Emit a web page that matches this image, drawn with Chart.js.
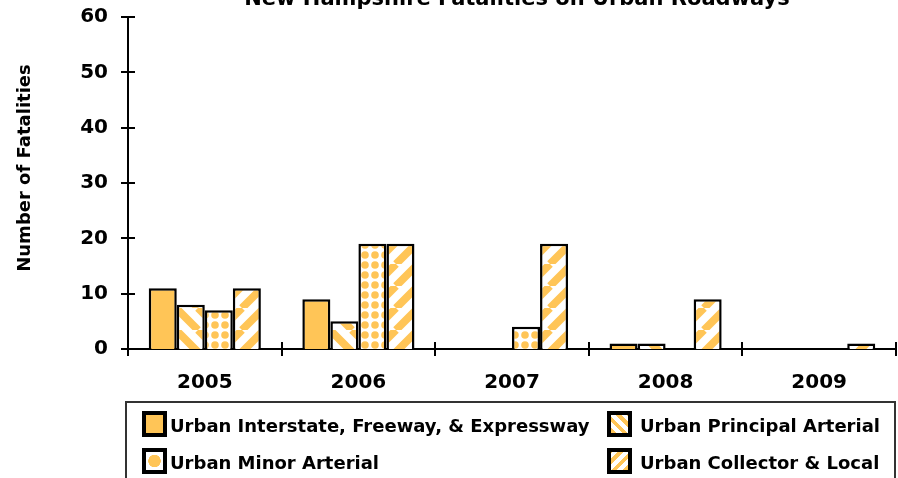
<!DOCTYPE html>
<html>
<head>
<meta charset="utf-8">
<script src="https://cdn.jsdelivr.net/npm/chart.js@4.4.1/dist/chart.umd.min.js"></script>
<style>
  html, body { margin:0; padding:0; background:#fff; }
  #wrap { position:relative; width:898px; height:478px; overflow:hidden; }
  canvas { position:absolute; left:0; top:0; }
  #legendBox { position:absolute; left:125px; top:401px; width:771px; height:100px; border:2px solid #333; box-sizing:border-box; }
  .sw { position:absolute; width:25px; height:26px; border:4px solid #000; box-sizing:border-box; }
  .lt { position:absolute; font-family:"DejaVu Sans", sans-serif; font-weight:bold; font-size:18px; line-height:18px; color:#000; white-space:nowrap; }
</style>
</head>
<body>
<div id="wrap">
  <canvas id="c" width="898" height="478"></canvas>
  <div id="legendBox"></div>
  <div id="legend"></div>
</div>
<script>
// ---- data ----
const years = ["2005", "2006", "2007", "2008", "2009"];
const seriesNames = [
  "Urban Interstate, Freeway, & Expressway",
  "Urban Principal Arterial",
  "Urban Minor Arterial",
  "Urban Collector & Local"
];
const interstateFreewayExpressway = [11, 9, 0, 1, 0];
const principalArterial = [8, 5, 0, 1, 0];
const minorArterial = [7, 19, 4, 0, 0];
const collectorLocal = [11, 19, 19, 9, 1];
const yTicks = [0, 10, 20, 30, 40, 50, 60];
const chartTitle = "New Hampshire Fatalities on Urban Roadways";
const yAxisTitle = "Number of Fatalities";

const ORANGE = "#FFC557";

function stripePattern(dir) {
  const T = 22;
  const c = document.createElement("canvas");
  c.width = T; c.height = T;
  const g = c.getContext("2d");
  g.fillStyle = "#fff"; g.fillRect(0, 0, T, T);
  g.strokeStyle = ORANGE; g.lineWidth = 7.8;
  g.beginPath();
  for (let k = -1; k <= 1; k++) {
    if (dir === "/") { g.moveTo(k * T, T); g.lineTo(k * T + T, 0); }
    else { g.moveTo(k * T, 0); g.lineTo(k * T + T, T); }
  }
  g.stroke();
  return g.createPattern(c, "repeat");
}
function dotPattern() {
  const T = 10;
  const c = document.createElement("canvas");
  c.width = T; c.height = T;
  const g = c.getContext("2d");
  g.fillStyle = "#fff"; g.fillRect(0, 0, T, T);
  g.fillStyle = ORANGE;
  g.beginPath(); g.arc(T / 2, T / 2, 3.8, 0, Math.PI * 2); g.fill();
  return g.createPattern(c, "repeat");
}

const fills = [ORANGE, stripePattern("\\"), dotPattern(), stripePattern("/")];
const seriesData = [interstateFreewayExpressway, principalArterial, minorArterial, collectorLocal];

const AXIS_FONT = { family: "DejaVu Sans", weight: "bold", size: 20 };

const extrasPlugin = {
  id: "extras",
  afterDraw(chart) {
    const ctx = chart.ctx;
    const area = chart.chartArea;
    const xs = chart.scales.x, ys = chart.scales.y;
    ctx.save();
    ctx.strokeStyle = "#000";
    ctx.lineWidth = 2;
    ctx.beginPath();
    ys.ticks.forEach((t, i) => {
      const y = Math.round(ys.getPixelForTick(i));
      ctx.moveTo(area.left - 7, y); ctx.lineTo(area.left + 7, y);
    });
    for (let i = 0; i <= years.length; i++) {
      const x = Math.round(xs.getPixelForValue(i - 0.5));
      ctx.moveTo(x, area.bottom - 7); ctx.lineTo(x, area.bottom + 7);
    }
    ctx.stroke();
    ctx.fillStyle = "#000";
    ctx.font = "bold 21px 'DejaVu Sans'";
    ctx.textAlign = "center";
    ctx.textBaseline = "alphabetic";
    ctx.fillText(chartTitle, 517, 5);
    ctx.translate(25, 168);
    ctx.rotate(-Math.PI / 2);
    ctx.font = "bold 18px 'DejaVu Sans'";
    ctx.textBaseline = "middle";
    ctx.fillText(yAxisTitle, 0, 0);
    ctx.restore();
  }
};

new Chart(document.getElementById("c"), {
  type: "bar",
  data: {
    labels: years,
    datasets: seriesNames.map((name, i) => ({
      label: name,
      data: seriesData[i],
      backgroundColor: fills[i],
      borderColor: "#000",
      borderWidth: 2.5,
      categoryPercentage: 0.73,
      barPercentage: 1.0
    }))
  },
  options: {
    responsive: false,
    animation: false,
    layout: { padding: { top: 17, right: 2, left: 0, bottom: 0 } },
    plugins: { legend: { display: false }, title: { display: false }, tooltip: { enabled: false } },
    scales: {
      x: {
        offset: true,
        grid: { display: false, drawTicks: false, offset: true },
        border: { display: true, color: "#000", width: 2 },
        ticks: { color: "#000", font: AXIS_FONT, padding: 22, maxRotation: 0 },
        afterFit(s) { s.height = 129; s.paddingLeft = 0; s.paddingRight = 0; }
      },
      y: {
        min: 0, max: 60,
        afterBuildTicks(s) { s.ticks = yTicks.map(v => ({ value: v })); },
        grid: { display: false, drawTicks: false },
        border: { display: true, color: "#000", width: 2 },
        ticks: { color: "#000", font: AXIS_FONT, padding: 20 },
        afterFit(s) { s.width = 128; s.paddingTop = 0; s.paddingBottom = 0; }
      }
    }
  },
  plugins: [extrasPlugin]
});

// ---- HTML legend ----
const swatchBg = [
  ORANGE,
  "repeating-linear-gradient(45deg, " + ORANGE + " 0 4px, #fff 4px 8px)",
  "radial-gradient(circle, " + ORANGE + " 0 6px, #fff 6.5px)",
  "repeating-linear-gradient(-45deg, " + ORANGE + " 0 4px, #fff 4px 8px)"
];
const legendPos = [
  { sx: 142, sy: 411, tx: 170, ty: 417 },
  { sx: 607, sy: 411, tx: 640, ty: 417 },
  { sx: 142, sy: 448, tx: 170, ty: 454 },
  { sx: 607, sy: 448, tx: 640, ty: 454 }
];
const leg = document.getElementById("legend");
seriesNames.forEach((name, i) => {
  const p = legendPos[i];
  const sw = document.createElement("div");
  sw.className = "sw";
  sw.style.left = p.sx + "px"; sw.style.top = p.sy + "px";
  sw.style.background = swatchBg[i];
  leg.appendChild(sw);
  const t = document.createElement("div");
  t.className = "lt";
  t.style.left = p.tx + "px"; t.style.top = p.ty + "px";
  t.textContent = name;
  leg.appendChild(t);
});
</script>
</body>
</html>
